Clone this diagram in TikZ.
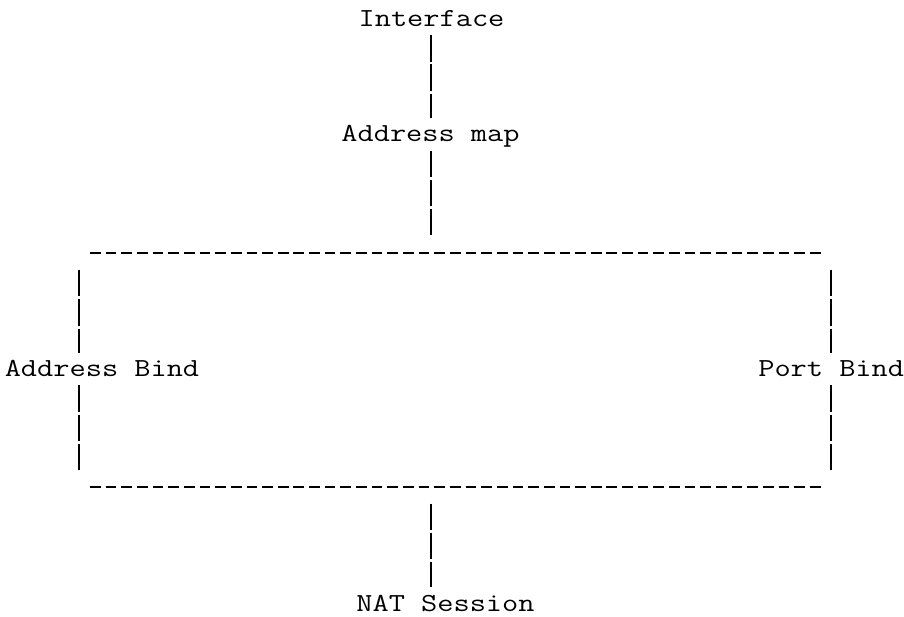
\documentclass[tikz,border=0pt]{standalone}
\usepackage{fontspec}
\newfontfamily\asciifont[FakeStretch=1.21]{Latin Modern Mono}

\tikzset{
  asciitxt/.style={font=\asciifont\fontsize{26pt}{30pt}\selectfont, anchor=base,
    inner sep=0pt, text height=23.5pt, text depth=8.5pt},
  vbar/.style={line width=1.6pt, dash pattern=on 26.5pt off 2.8pt},
  hbar/.style={line width=1.9pt, dash pattern=on 10.7pt off 4.95pt},
}

\begin{document}
\begin{tikzpicture}[x=1pt,y=-1pt]
  \useasboundingbox (0,0) rectangle (904,617);

  \node[asciitxt] (iface) at (431.5,26.5) {Interface};
  \node[asciitxt] (amap)  at (430.5,142) {Address map};
  \node[asciitxt] (abind) at (102,376.6) {Address Bind};
  \node[asciitxt] (pbind) at (831.2,376.6) {Port Bind};
  \node[asciitxt] (nat)   at (445.5,611) {NAT Session};

  % the two dashed rows
  \coordinate (topW) at (90,253);
  \coordinate (topE) at (821,253);
  \coordinate (botW) at (90,486.7);
  \coordinate (botE) at (821,486.7);
  \coordinate (topC) at (431,253);
  \coordinate (botC) at (431,486.7);
  \coordinate (topL) at (79,253);
  \coordinate (topR) at (831,253);
  \coordinate (botL) at (79,486.7);
  \coordinate (botR) at (831,486.7);

  \draw[hbar] (topW) -- (topE);
  \draw[hbar] (botW) -- (botE);

  % centre column
  \draw[vbar] (iface.south -| topC) -- (amap.north -| topC);
  \draw[vbar, shorten >=17.5pt] (amap.south -| topC) -- (topC);
  \draw[vbar, shorten <=16.8pt] (botC) -- (botC |- nat.north);

  % left and right columns
  \draw[vbar, shorten <=17pt] (topL) -- (topL |- abind.north);
  \draw[vbar, shorten >=16.7pt] (topL |- abind.south) -- (botL);
  \draw[vbar, shorten <=17pt] (topR) -- (topR |- pbind.north);
  \draw[vbar, shorten >=16.7pt] (topR |- pbind.south) -- (botR);
\end{tikzpicture}
\end{document}
